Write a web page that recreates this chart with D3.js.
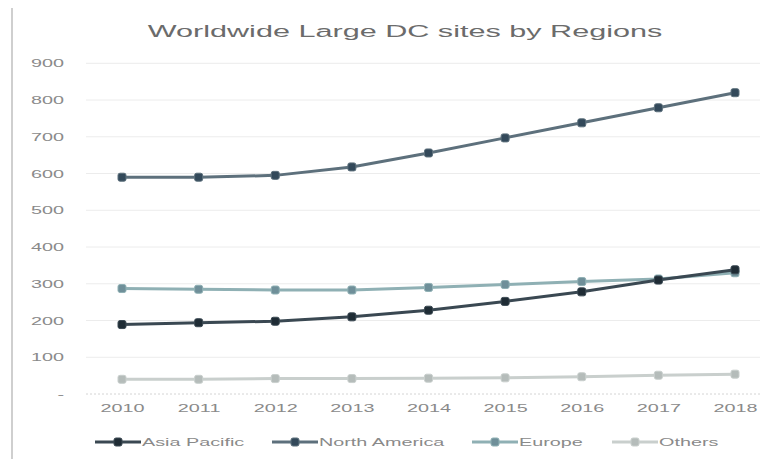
<!DOCTYPE html>
<html><head><meta charset="utf-8">
<script src="https://cdn.jsdelivr.net/npm/d3@7"></script>
<style>body{margin:0;background:#fff}svg{display:block}</style>
</head><body>
<svg id="c" width="763" height="459"></svg>
<script>
const years = ["2010","2011","2012","2013","2014","2015","2016","2017","2018"];
const asiaPacific  = [189,194,198,210,228,252,278,310,338];
const northAmerica = [590,590,595,618,656,697,738,779,820];
const europe       = [287,285,283,283,290,298,306,313,330];
const others       = [40,40,42,42,43,44,47,51,54];
const seriesNames  = ["Asia Pacific","North America","Europe","Others"];
const yTicks = [0,100,200,300,400,500,600,700,800,900];

const FONT = "Liberation Sans, Arial, sans-serif";
const SX = 1.8; // horizontal stretch of the reference
const colors = {
  "Asia Pacific": {line:"#3a4852", mark:"#1f2c35"},
  "North America": {line:"#5d707c", mark:"#33495a"},
  "Europe": {line:"#8fb0b4", mark:"#6f8f99"},
  "Others": {line:"#c9cfcd", mark:"#b5bcba"}
};
const data = [asiaPacific, northAmerica, europe, others];

const svg = d3.select("#c");
const x = d3.scalePoint().domain(years).range([122, 735]);
const y = d3.scaleLinear().domain([0, 900]).range([394, 63.3]);

// left border line
svg.append("line").attr("x1",12).attr("x2",12).attr("y1",8).attr("y2",459)
  .attr("stroke","#cfcfcf").attr("stroke-width",2);

// title
svg.append("text").attr("transform",`translate(405,37) scale(${SX},1)`)
  .attr("text-anchor","middle")
  .attr("font-family",FONT).attr("font-size",17)
  .attr("fill","#6b6b6b").text("Worldwide Large DC sites by Regions");

// gridlines
svg.append("g").selectAll("line").data(yTicks.filter(d=>d>0)).join("line")
  .attr("x1",86).attr("x2",760).attr("y1",d=>y(d)).attr("y2",d=>y(d))
  .attr("stroke","#ececec").attr("stroke-width",1);
svg.append("line").attr("x1",86).attr("x2",760).attr("y1",y(0)).attr("y2",y(0))
  .attr("stroke","#d4d4d4").attr("stroke-width",1).attr("stroke-dasharray","2,2");

// y axis labels
const yAxis = d3.axisLeft(y).tickValues(yTicks).tickSize(0).tickPadding(0)
  .tickFormat(d => d === 0 ? "-" : d3.format(",")(d));
const gy = svg.append("g").attr("transform","translate(64,0)").call(yAxis);
gy.select(".domain").remove();
gy.selectAll("text").attr("font-family",FONT)
  .attr("font-size",11).attr("fill","#8a8a8a").attr("x",0)
  .attr("transform",`scale(${SX},1)`);

// x axis labels
const xAxis = d3.axisBottom(x).tickSize(0);
const gx = svg.append("g").attr("transform","translate(0,401)").call(xAxis);
gx.select(".domain").remove();
gx.selectAll("text").attr("font-family",FONT)
  .attr("font-size",11).attr("fill","#8a8a8a")
  .attr("transform",`scale(${SX},1)`);

// lines
const line = d3.line().x((d,i)=>x(years[i])).y(d=>y(d));
const order = [3,2,1,0];
order.forEach(k => {
  const name = seriesNames[k], c = colors[name];
  svg.append("path").datum(data[k]).attr("d",line).attr("fill","none")
    .attr("stroke",c.line).attr("stroke-width",3);
  svg.append("g").selectAll("rect").data(data[k]).join("rect")
    .attr("x",(d,i)=>x(years[i])-4).attr("y",d=>y(d)-4)
    .attr("width",8).attr("height",8).attr("rx",2)
    .attr("fill",c.mark).attr("stroke",c.line).attr("stroke-width",1);
});

// legend
const legX = [95, 272, 472, 612];
const leg = svg.append("g");
seriesNames.forEach((name,i) => {
  const c = colors[name], lx = legX[i], ly = 442;
  leg.append("line").attr("x1",lx).attr("x2",lx+46).attr("y1",ly).attr("y2",ly)
    .attr("stroke",c.line).attr("stroke-width",3);
  leg.append("rect").attr("x",lx+19).attr("y",ly-4).attr("width",8).attr("height",8).attr("rx",2)
    .attr("fill",c.mark).attr("stroke",c.line);
  leg.append("text").attr("transform",`translate(${lx+47},${ly+4}) scale(${SX},1)`)
    .attr("font-family",FONT).attr("font-size",11)
    .attr("fill","#8a8a8a").text(name);
});
</script>
</body></html>
